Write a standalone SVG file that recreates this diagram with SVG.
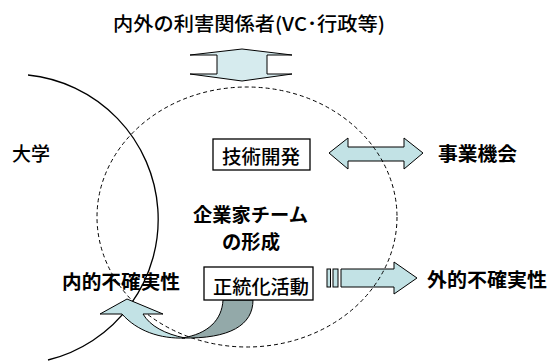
<svg xmlns="http://www.w3.org/2000/svg" width="552" height="361" viewBox="0 0 552 361">
<defs>
<style>
.t{font-family:"Noto Sans CJK JP","Liberation Sans",sans-serif;font-size:19px;font-weight:500;fill:#000}
.b{font-weight:bold}
.box{fill:#fff;stroke:#000;stroke-width:1.3}
.arr{fill:#c2e2e5;stroke:#000;stroke-width:1}
.light{fill:#d6ebee;stroke:#000;stroke-width:1}
.dark{fill:#93a9a9;stroke:#000;stroke-width:1}
.circ{fill:none;stroke:#000;stroke-width:1.3}
.dash{fill:none;stroke:#000;stroke-width:1;stroke-dasharray:4 3}
</style>
</defs>
<rect width="552" height="361" fill="#fff"/>
<g id="university-arc">
<path class="circ" d="M 28 75 A 145 145 0 0 1 48 360"/>
</g>
<g id="connectors">
<polygon id="updown-arrow" class="light" points="242,49 292,55 267,55 267,74 292,74 242,81 190,74 217,74 217,55 190,55"/>
<polygon id="tech-biz-arrow" class="arr" points="329,153 348,138 348,147 404,147 404,138 423,153 404,169 404,161 348,161 348,169"/>
<g id="legit-ext-arrow">
<rect class="arr" x="327" y="269" width="3.5" height="18"/>
<rect class="arr" x="333" y="269" width="5" height="18"/>
<polygon class="arr" points="341,269 394,269 394,262 417,278 394,294 394,287 341,287"/>
</g>
</g>
<g id="team-circle">
<ellipse class="dash" cx="247" cy="217" rx="150" ry="130"/>
</g>
<g id="curved-arrow">
<path class="dark" d="M 223 300 L 253 300 C 253 325 230 339 182 338 C 208 334 222 320 223 300 Z"/>
<path class="arr" d="M 100 314 L 127 299 L 163 314 L 143 314 C 150 326 165 334 185 338 C 160 339 137 331 122 314 Z"/>
</g>
<g id="title">
<text class="t" x="113" y="31" textLength="272" lengthAdjust="spacingAndGlyphs">内外の利害関係者(VC･行政等)</text>
</g>
<g id="university">
<text class="t" x="12" y="161" textLength="38" lengthAdjust="spacingAndGlyphs">大学</text>
</g>
<g id="tech-dev">
<rect class="box" x="213" y="139" width="97" height="31"/>
<text class="t" x="222" y="164" textLength="78" lengthAdjust="spacingAndGlyphs">技術開発</text>
</g>
<g id="biz-opp">
<text class="t b" x="438" y="161" textLength="79" lengthAdjust="spacingAndGlyphs">事業機会</text>
</g>
<g id="team">
<text class="t b" x="193" y="222" textLength="115" lengthAdjust="spacingAndGlyphs">企業家チーム</text>
<text class="t b" x="222" y="249" textLength="58" lengthAdjust="spacingAndGlyphs">の形成</text>
</g>
<g id="legitimation">
<rect class="box" x="204" y="267" width="109" height="33"/>
<text class="t" x="213" y="294" textLength="96" lengthAdjust="spacingAndGlyphs">正統化活動</text>
</g>
<g id="internal-uncertainty">
<text class="t b" x="62" y="289" textLength="118" lengthAdjust="spacingAndGlyphs">内的不確実性</text>
</g>
<g id="external-uncertainty">
<text class="t b" x="427" y="287" textLength="120" lengthAdjust="spacingAndGlyphs">外的不確実性</text>
</g>
</svg>
